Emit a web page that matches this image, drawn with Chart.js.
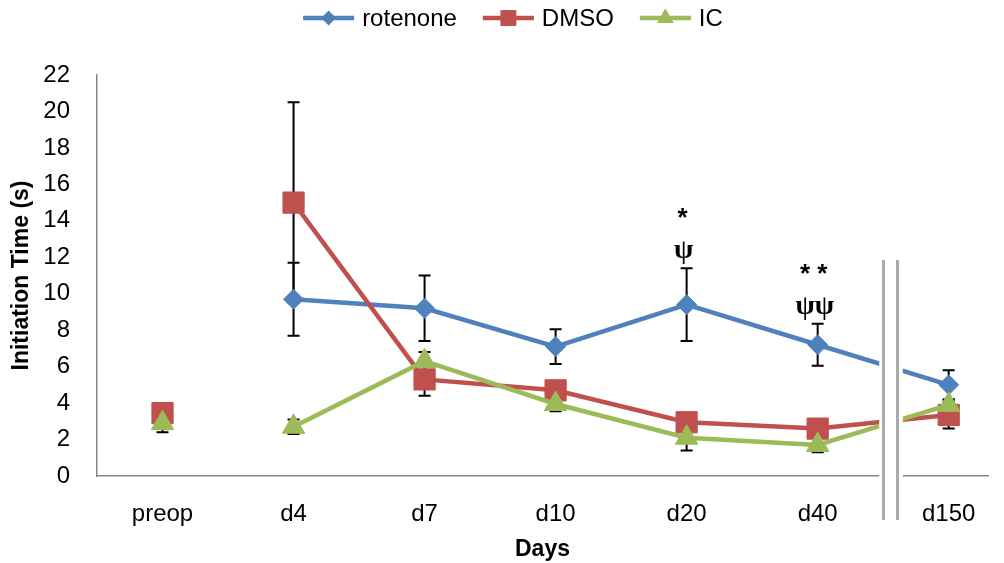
<!DOCTYPE html>
<html>
<head>
<meta charset="utf-8">
<script src="https://cdn.jsdelivr.net/npm/chart.js@4.4.1/dist/chart.umd.min.js"></script>
<style>
  html, body { margin: 0; padding: 0; background: #fff; }
</style>
</head>
<body>
<canvas id="chart" width="1004" height="563"></canvas>
<script>
// values (initiation time in seconds)
const categories = ['preop', 'd4', 'd7', 'd10', 'd20', 'd40', 'd150'];
const rotenone = [3.2, 9.7, 9.2, 7.1, 9.4, 7.2, 5.0];
const rotenoneErr = [0.4, 2.0, 1.8, 0.95, 2.0, 1.15, 0.8];
const dmso = [3.45, 15.0, 5.3, 4.7, 2.95, 2.6, 3.35];
const dmsoErr = [0.4, 5.5, 0.9, 0.4, 0.4, 0.4, 0.75];
const ic = [2.9, 2.7, 6.3, 3.95, 2.1, 1.7, 3.9];
const icErr = [0.5, 0.4, 0.5, 0.4, 0.7, 0.4, 0.3];
const yTicks = [0, 2, 4, 6, 8, 10, 12, 14, 16, 18, 20, 22];
// significance marks above the rotenone error bars
const marks = [
    { index: 4, star: '*', psi: 'ψ' },
    { index: 5, star: '* *', psi: 'ψψ' },
];

const BLUE = '#4F81BD', RED = '#C0504D', GREEN = '#9BBB59';
const FONT = 'Liberation Sans';

Chart.defaults.font.family = FONT;
Chart.defaults.font.size = 24;
Chart.defaults.color = '#000';

const toPoints = arr => arr.map((v, i) => ({ x: i, y: v }));
// preop is not joined to d4
const hideFirst = ctx => ctx.p0DataIndex === 0 ? 'rgba(0,0,0,0)' : undefined;

function series(label, values, errors, color, style, radius, order) {
    return {
        label: label,
        data: toPoints(values),
        errors: errors,
        borderColor: color,
        backgroundColor: color,
        borderWidth: 4.5,
        pointStyle: style,
        pointRadius: radius,
        pointBorderWidth: 1,
        pointBackgroundColor: color,
        pointBorderColor: color,
        tension: 0,
        order: order,
        segment: { borderColor: hideFirst },
    };
}

const errorBars = {
    id: 'errorBars',
    beforeDatasetsDraw(chart) {
        const { ctx, scales: { x, y } } = chart;
        ctx.save();
        ctx.strokeStyle = '#000';
        ctx.lineWidth = 2;
        chart.data.datasets.forEach(ds => {
            ds.data.forEach((p, i) => {
                const e = ds.errors[i];
                const px = x.getPixelForValue(p.x);
                const top = y.getPixelForValue(p.y + e);
                const bot = y.getPixelForValue(p.y - e);
                ctx.beginPath();
                ctx.moveTo(px, top); ctx.lineTo(px, bot);
                ctx.moveTo(px - 6, top); ctx.lineTo(px + 6, top);
                ctx.moveTo(px - 6, bot); ctx.lineTo(px + 6, bot);
                ctx.stroke();
            });
        });
        ctx.restore();
    }
};

const axisBreak = {
    id: 'axisBreak',
    afterDatasetsDraw(chart) {
        const { ctx, chartArea, scales: { x, y } } = chart;
        const x0 = x.getPixelForValue(5.47);
        const x1 = x.getPixelForValue(5.65);
        ctx.save();
        ctx.fillStyle = '#fff';
        ctx.fillRect(x0, chartArea.top, x1 - x0, chartArea.bottom - chartArea.top + 2);
        ctx.strokeStyle = '#aaa';
        ctx.lineWidth = 3;
        const top = y.getPixelForValue(11.85);
        [5.5, 5.608].forEach(v => {
            const px = Math.round(x.getPixelForValue(v)) + 0.5;
            ctx.beginPath();
            ctx.moveTo(px, top);
            ctx.lineTo(px, chartArea.bottom + 44);
            ctx.stroke();
        });
        ctx.restore();
    }
};

const extras = {
    id: 'extras',
    afterDraw(chart) {
        const { ctx, scales: { x, y } } = chart;
        ctx.save();
        ctx.textAlign = 'center';
        ctx.textBaseline = 'middle';
        ctx.fillStyle = '#000';
        marks.forEach(m => {
            const px = x.getPixelForValue(m.index) - 4;
            const top = y.getPixelForValue(rotenone[m.index] + rotenoneErr[m.index]);
            ctx.font = 'bold 26px ' + FONT;
            ctx.fillText(m.star, px, top - 49);
            ctx.font = 'bold 28px "Liberation Serif"';
            ctx.fillText(m.psi, px + 1, top - 17);
        });

        // legend: line with marker, then label
        ctx.font = '24px ' + FONT;
        ctx.textAlign = 'left';
        const items = chart.data.datasets;
        const lineLen = 51, gap = 8, spacing = 26;
        const widths = items.map(ds => lineLen + gap + ctx.measureText(ds.label).width);
        const total = widths.reduce((a, b) => a + b, 0) + spacing * (items.length - 1);
        let lx = 513 - total / 2;
        const ly = 18;
        items.forEach((ds, i) => {
            ctx.strokeStyle = ds.borderColor;
            ctx.lineWidth = 4.5;
            ctx.beginPath();
            ctx.moveTo(lx, ly); ctx.lineTo(lx + lineLen, ly);
            ctx.stroke();
            ctx.fillStyle = ds.backgroundColor;
            Chart.helpers.drawPoint(ctx, {
                pointStyle: ds.pointStyle, radius: ds.pointRadius * 0.75,
                rotation: 0, borderWidth: 0
            }, lx + lineLen / 2, ly);
            ctx.fillStyle = '#000';
            ctx.fillText(ds.label, lx + lineLen + gap, ly + 1);
            lx += widths[i] + spacing;
        });
        ctx.restore();
    }
};

new Chart(document.getElementById('chart'), {
    type: 'line',
    data: {
        datasets: [
            series('rotenone', rotenone, rotenoneErr, BLUE, 'rectRot', 10, 3),
            series('DMSO', dmso, dmsoErr, RED, 'rect', 15, 2),
            series('IC', ic, icErr, GREEN, 'triangle', 13, 1),
        ]
    },
    options: {
        responsive: false,
        animation: false,
        layout: { padding: { top: 75, right: 4, left: 0, bottom: 0 } },
        plugins: {
            legend: { display: false },
            tooltip: { enabled: false },
        },
        scales: {
            x: {
                type: 'linear',
                min: -0.5,
                max: 6.3,
                grid: { display: false, drawTicks: false },
                border: { display: true, color: '#868686', width: 1.5 },
                afterBuildTicks(scale) {
                    scale.ticks = categories.map((c, i) => ({ value: i }));
                },
                ticks: {
                    autoSkip: false,
                    maxRotation: 0,
                    padding: 24,
                    callback: v => categories[v],
                },
                title: {
                    display: true, text: 'Days',
                    font: { size: 23, weight: 'bold' },
                    padding: { top: 0, bottom: 0 },
                },
                afterFit(scale) { scale.height = 87; },
            },
            y: {
                min: 0,
                max: 22,
                grid: { display: false, drawTicks: false },
                border: { display: true, color: '#868686', width: 1.5 },
                afterBuildTicks(scale) {
                    scale.ticks = yTicks.map(v => ({ value: v }));
                },
                ticks: { padding: 27 },
                title: {
                    display: true, text: 'Initiation Time (s)',
                    font: { size: 23, weight: 'bold' },
                    padding: { top: 8, bottom: 0 },
                },
                afterFit(scale) { scale.width = 97; },
            },
        },
    },
    plugins: [errorBars, axisBreak, extras],
});
</script>
</body>
</html>
